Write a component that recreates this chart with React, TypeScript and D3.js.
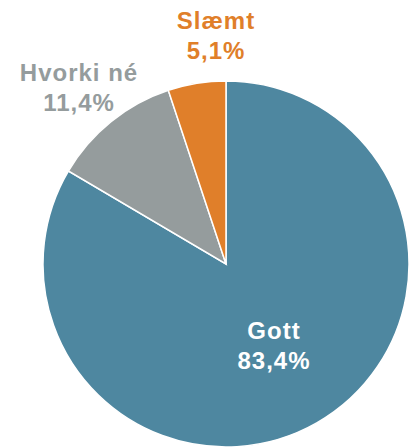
import React from 'react';
import * as d3 from 'd3';

const categories = ['Gott', 'Hvorki né', 'Slæmt'];
const values = [83.4, 11.4, 5.1];
const valueLabels = ['83,4%', '11,4%', '5,1%'];
const colors = ['#4e87a0', '#959c9d', '#e07f2a'];
const labelColors = ['#ffffff', '#959c9d', '#e07f2a'];

const width = 411;
const height = 447;

export default function App() {
  const cx = 226;
  const cy = 264;
  const radius = 183;

  const pie = d3.pie<number>().sort(null).value(d => d);
  const arcs = pie(values);
  const arc = d3.arc<d3.PieArcDatum<number>>().innerRadius(0).outerRadius(radius);

  // label positions (relative to pie center), placed like the original
  const labelPos: [number, number][] = [
    [48, 75],
    [-147, -183],
    [-10, -235],
  ];

  return (
    <svg
      width={width}
      height={height}
      style={{ position: 'absolute', left: 0, top: 0, background: '#fff' }}
      fontFamily="'Liberation Sans', Arial, sans-serif"
    >
      <g transform={`translate(${cx},${cy})`}>
        {arcs.map((a, i) => (
          <path key={categories[i]} d={arc(a) || ''} fill={colors[i]} stroke="#fff" strokeWidth={1.5} />
        ))}
        {arcs.map((a, i) => (
          <text
            key={'l' + i}
            x={labelPos[i][0]}
            y={labelPos[i][1]}
            textAnchor="middle"
            fontSize={24}
            fontWeight="bold"
            letterSpacing={1}
            fill={labelColors[i]}
          >
            <tspan x={labelPos[i][0]}>{categories[i]}</tspan>
            <tspan x={labelPos[i][0]} dy={30}>{valueLabels[i]}</tspan>
          </text>
        ))}
      </g>
    </svg>
  );
}
